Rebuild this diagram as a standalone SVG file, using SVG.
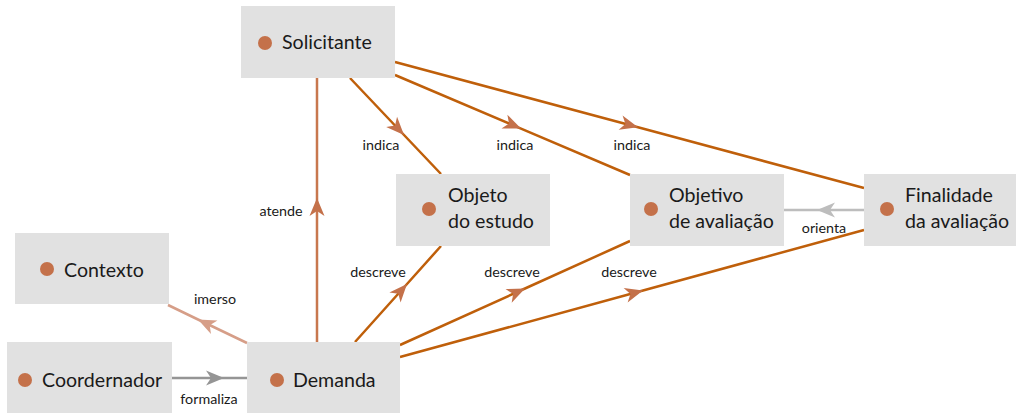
<svg xmlns="http://www.w3.org/2000/svg" width="1016" height="413" viewBox="0 0 1016 413">
  <style>
    .box { fill: #e1e1e1; }
    .dot { fill: #c4714a; }
    .nt { font-family: Lato, "Open Sans", sans-serif; font-size: 19.6px; fill: #1a1a1a; }
    .lb { font-family: Lato, "Open Sans", sans-serif; font-size: 14.3px; fill: #1a1a1a; text-anchor: middle; }
    .e { fill: none; stroke-width: 2.5; }
    .or { stroke: #bf5f0a; marker-mid: url(#aOr); }
    .at { stroke: #c8774e; marker-mid: url(#aOr); }
    .im { stroke: #d69e88; marker-mid: url(#aIm); }
    .gr { stroke: #959595; marker-mid: url(#aGr); }
    .lg { stroke: #bdbdbd; marker-mid: url(#aLg); }
  </style>
  <defs>
    <marker id="aOr" viewBox="-20 -10 22 20" refX="0" refY="0" markerWidth="22" markerHeight="20" markerUnits="userSpaceOnUse" orient="auto">
      <path d="M0,0 L-18,-7.5 L-13,0 L-18,7.5 Z" fill="#c4714a"/>
    </marker>
    <marker id="aIm" viewBox="-20 -10 22 20" refX="0" refY="0" markerWidth="22" markerHeight="20" markerUnits="userSpaceOnUse" orient="auto">
      <path d="M0,0 L-18,-7.5 L-13,0 L-18,7.5 Z" fill="#d69e88"/>
    </marker>
    <marker id="aGr" viewBox="-20 -10 22 20" refX="0" refY="0" markerWidth="22" markerHeight="20" markerUnits="userSpaceOnUse" orient="auto">
      <path d="M0,0 L-18,-7.5 L-13,0 L-18,7.5 Z" fill="#959595"/>
    </marker>
    <marker id="aLg" viewBox="-20 -10 22 20" refX="0" refY="0" markerWidth="22" markerHeight="20" markerUnits="userSpaceOnUse" orient="auto">
      <path d="M0,0 L-18,-7.5 L-13,0 L-18,7.5 Z" fill="#bdbdbd"/>
    </marker>
  </defs>

  <g id="connectors">
    <path class="e at" d="M317,342 L317,198 L317,78"/>
    <path class="e or" d="M350,78 L404,135 L441,174"/>
    <path class="e or" d="M395,75 L521,128.6 L630,175"/>
    <path class="e or" d="M395,62 L638,127.3 L864,188"/>
    <path class="e lg" d="M864,210 L817,210 L784,210"/>
    <path class="e or" d="M355,342 L407,284 L441,246"/>
    <path class="e or" d="M400,345 L525,288.5 L630,241"/>
    <path class="e or" d="M400,357 L643,290.5 L864,230"/>
    <path class="e im" d="M247,343 L198,319.5 L168,305"/>
    <path class="e gr" d="M172,378 L224,378 L247,378"/>
    <text class="lb" x="281" y="216">atende</text>
    <text class="lb" x="381" y="150">indica</text>
    <text class="lb" x="515" y="150">indica</text>
    <text class="lb" x="632" y="150">indica</text>
    <text class="lb" x="824" y="233">orienta</text>
    <text class="lb" x="378" y="277">descreve</text>
    <text class="lb" x="512" y="277">descreve</text>
    <text class="lb" x="629" y="277">descreve</text>
    <text class="lb" x="215" y="304">imerso</text>
    <text class="lb" x="209" y="404">formaliza</text>
  </g>

  <g id="solicitante">
    <rect class="box" x="241" y="6" width="154" height="72"/>
    <circle class="dot" cx="265" cy="43" r="7"/>
    <text class="nt" x="282" y="49">Solicitante</text>
  </g>
  <g id="objeto">
    <rect class="box" x="396" y="174" width="154" height="72"/>
    <circle class="dot" cx="429" cy="209" r="7"/>
    <text class="nt" x="448" y="202">Objeto</text>
    <text class="nt" x="448" y="228">do estudo</text>
  </g>
  <g id="objetivo">
    <rect class="box" x="630" y="174" width="154" height="72"/>
    <circle class="dot" cx="651" cy="209" r="7"/>
    <text class="nt" x="669" y="202">Objetivo</text>
    <text class="nt" x="669" y="228">de avaliação</text>
  </g>
  <g id="finalidade">
    <rect class="box" x="864" y="174" width="152" height="72"/>
    <circle class="dot" cx="887" cy="209" r="7"/>
    <text class="nt" x="905" y="202">Finalidade</text>
    <text class="nt" x="905" y="228">da avaliação</text>
  </g>
  <g id="contexto">
    <rect class="box" x="15" y="233" width="154" height="71"/>
    <circle class="dot" cx="47" cy="269" r="7"/>
    <text class="nt" x="64" y="277">Contexto</text>
  </g>
  <g id="coordernador">
    <rect class="box" x="7" y="342" width="165" height="71"/>
    <circle class="dot" cx="25" cy="380" r="7"/>
    <text class="nt" x="42" y="387">Coordernador</text>
  </g>
  <g id="demanda">
    <rect class="box" x="247" y="342" width="153" height="71"/>
    <circle class="dot" cx="277" cy="380" r="7"/>
    <text class="nt" x="293" y="387">Demanda</text>
  </g>
</svg>
